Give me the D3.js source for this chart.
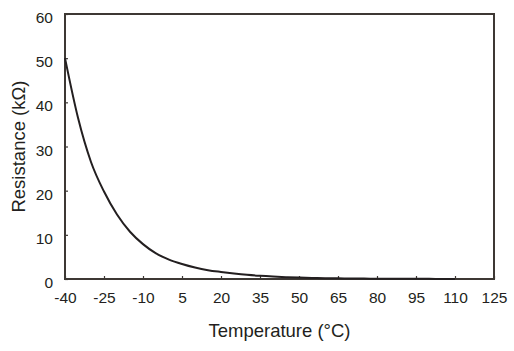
<!DOCTYPE html>
<html>
<head>
<meta charset="utf-8">
<script src="https://cdn.jsdelivr.net/npm/d3@7"></script>
<style>
  body { margin: 0; background: #fff; }
  #chart { width: 514px; height: 351px; }
  text { font-family: "Liberation Sans", Arial, Helvetica, sans-serif; fill: #231f20; }
</style>
</head>
<body>
<div id="chart"></div>
<script>
/** Data */
const temperatures = [-40, -35, -30, -25, -20, -15, -10, -5, 0, 5, 10, 15, 20, 25, 30, 35, 40, 45, 50, 55, 60, 65, 70, 75, 80, 85, 90, 95, 100, 105, 110];
const resistances = [50, 36.5, 26.5, 19.8, 14.6, 10.7, 7.9, 5.8, 4.4, 3.4, 2.6, 2.0, 1.6, 1.25, 0.95, 0.72, 0.55, 0.42, 0.32, 0.25, 0.19, 0.15, 0.12, 0.09, 0.07, 0.06, 0.05, 0.04, 0.03, 0.025, 0.02];
const xTicks = [-40, -25, -10, 5, 20, 35, 50, 65, 80, 95, 110, 125];
const yTicks = [0, 10, 20, 30, 40, 50, 60];

/** Graph configs */
const margin = { top: 14, right: 20, bottom: 72, left: 65 };
const width = 514 - margin.left - margin.right;
const height = 351 - margin.top - margin.bottom;
const axisColor = "#3d3834";

const svg = d3
  .select("#chart")
  .append("svg")
  .attr("width", 514)
  .attr("height", 351)
  .append("g")
  .attr("transform", `translate(${margin.left},${margin.top})`);

const xScale = d3.scaleLinear().domain([-40, 125]).range([0, width]);
const yScale = d3.scaleLinear().domain([0, 60]).range([height, 0]);

/** Axes, ticks pointing inward; plain hyphen for negatives */
const xAxis = svg
  .append("g")
  .attr("transform", `translate(0,${height})`)
  .call(d3.axisTop(xScale).tickValues(xTicks).tickSize(3).tickFormat((d) => String(d)));
xAxis.selectAll("text")
  .attr("y", 19)
  .attr("dy", "0.35em")
  .style("font-size", "15.5px")
  .style("fill", "#231f20");

const yAxis = svg
  .append("g")
  .call(d3.axisRight(yScale).tickValues(yTicks).tickSize(3));
yAxis.selectAll("text")
  .attr("x", -12)
  .attr("dy", "0.55em")
  .attr("text-anchor", "end")
  .style("font-size", "15.5px")
  .style("fill", "#231f20");

svg.selectAll(".domain").remove();
svg.selectAll(".tick line").attr("stroke", axisColor).attr("stroke-width", 1.2);

/** Frame */
svg.append("rect")
  .attr("x", 0)
  .attr("y", 0)
  .attr("width", width)
  .attr("height", height)
  .attr("fill", "none")
  .attr("stroke", axisColor)
  .attr("stroke-width", 2);

/** Curve */
const points = temperatures.map((t, i) => [t, resistances[i]]);
const line = d3
  .line()
  .x((d) => xScale(d[0]))
  .y((d) => yScale(d[1]))
  .curve(d3.curveMonotoneX);

svg.append("path")
  .datum(points)
  .attr("d", line)
  .attr("fill", "none")
  .attr("stroke", "#231f20")
  .attr("stroke-width", 2);

/** Axis titles */
svg.append("text")
  .attr("x", width / 2)
  .attr("y", height + 58)
  .attr("text-anchor", "middle")
  .style("font-size", "18.5px")
  .text("Temperature (°C)");

svg.append("text")
  .attr("transform", `translate(${-40},${height / 2}) rotate(-90)`)
  .attr("text-anchor", "middle")
  .style("font-size", "18.5px")
  .text("Resistance (kΩ)");
</script>
</body>
</html>
